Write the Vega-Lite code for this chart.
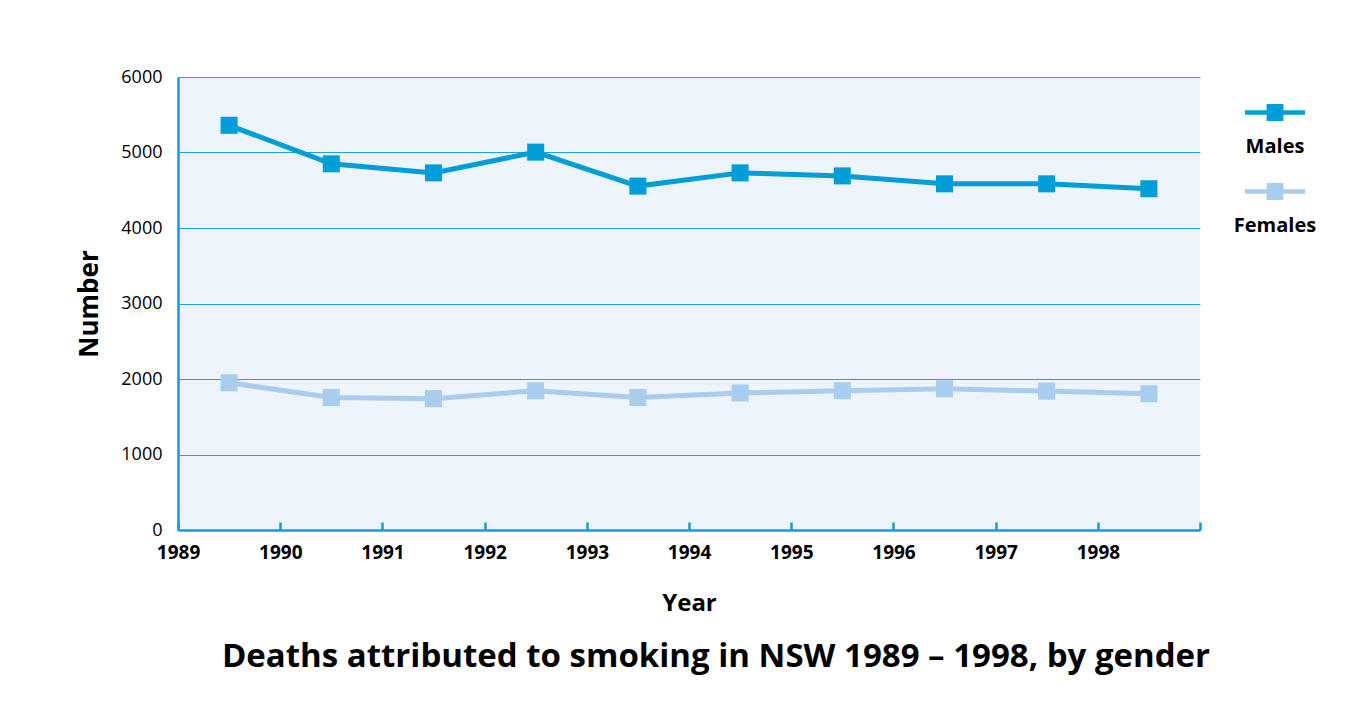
{
  "$schema": "https://vega.github.io/schema/vega-lite/v6.json",
  "width": 1022,
  "height": 453,
  "autosize": {"type": "none"},
  "padding": {"left": 178, "top": 77, "right": 169, "bottom": 183},
  "background": "white",
  "title": {
    "text": "Deaths attributed to smoking in NSW 1989 – 1998, by gender",
    "orient": "bottom",
    "anchor": "middle",
    "font": "Open Sans",
    "fontSize": 33,
    "fontWeight": "bold",
    "color": "black",
    "offset": 26,
    "dx": 27
  },
  "data": {
    "values": [
      {"year": "1989", "gender": "Males", "deaths": 5360},
      {"year": "1990", "gender": "Males", "deaths": 4850},
      {"year": "1991", "gender": "Males", "deaths": 4730},
      {"year": "1992", "gender": "Males", "deaths": 5005},
      {"year": "1993", "gender": "Males", "deaths": 4555},
      {"year": "1994", "gender": "Males", "deaths": 4730},
      {"year": "1995", "gender": "Males", "deaths": 4690},
      {"year": "1996", "gender": "Males", "deaths": 4585},
      {"year": "1997", "gender": "Males", "deaths": 4585},
      {"year": "1998", "gender": "Males", "deaths": 4520},
      {"year": "1989", "gender": "Females", "deaths": 1950},
      {"year": "1990", "gender": "Females", "deaths": 1755},
      {"year": "1991", "gender": "Females", "deaths": 1740},
      {"year": "1992", "gender": "Females", "deaths": 1845},
      {"year": "1993", "gender": "Females", "deaths": 1755},
      {"year": "1994", "gender": "Females", "deaths": 1815},
      {"year": "1995", "gender": "Females", "deaths": 1845},
      {"year": "1996", "gender": "Females", "deaths": 1870},
      {"year": "1997", "gender": "Females", "deaths": 1840},
      {"year": "1998", "gender": "Females", "deaths": 1805}
    ]
  },
  "mark": {
    "type": "line",
    "strokeWidth": 5,
    "point": {"shape": "square", "size": 290, "filled": true, "opacity": 1}
  },
  "encoding": {
    "x": {
      "field": "year",
      "type": "ordinal",
      "scale": {"type": "band", "paddingInner": 0, "paddingOuter": 0},
      "axis": {
        "title": "Year",
        "labelAngle": 0,
        "labelFont": "Open Sans",
        "labelFontSize": 19,
        "labelFontWeight": "bold",
        "labelColor": "black",
        "labelOffset": -51,
        "labelPadding": 21,
        "tickBand": "extent",
        "tickSize": -8,
        "tickWidth": 2.5,
        "tickColor": "#129fd6",
        "domainColor": "#129fd6",
        "domainWidth": 2.5,
        "grid": false,
        "titleFont": "Open Sans",
        "titleFontSize": 24,
        "titleFontWeight": "bold",
        "titleColor": "black",
        "titlePadding": 29
      }
    },
    "y": {
      "field": "deaths",
      "type": "quantitative",
      "scale": {"domain": [0, 6000], "nice": false},
      "axis": {
        "title": "Number",
        "format": "d",
        "values": [0, 1000, 2000, 3000, 4000, 5000, 6000],
        "ticks": false,
        "labelFont": "Open Sans",
        "labelFontSize": 18,
        "labelColor": "black",
        "labelPadding": 16,
        "domainColor": "#129fd6",
        "domainWidth": 2.5,
        "grid": true,
        "gridColor": "#1ba5dc",
        "gridWidth": 1,
        "gridOpacity": 1,
        "titleFont": "Open Sans",
        "titleFontSize": 26,
        "titleFontWeight": "bold",
        "titleColor": "black",
        "titlePadding": 18
      }
    },
    "color": {
      "field": "gender",
      "type": "nominal",
      "scale": {"domain": ["Males", "Females"], "range": ["#009ed8", "#a9cdee"]},
      "legend": {
        "title": null,
        "orient": "none",
        "legendX": 1067,
        "legendY": 40,
        "direction": "vertical",
        "symbolType": "M-1,-1.225H1V-1.075H-1Z M-0.28,-1.43H0.28V-0.87H-0.28Z",
        "symbolSize": 3600,
        "symbolStrokeWidth": 0,
        "symbolOpacity": 1,
        "labelFont": "Open Sans",
        "labelFontSize": 20,
        "labelFontWeight": "bold",
        "labelColor": "black",
        "labelAlign": "center",
        "labelOffset": -30,
        "labelLimit": 200,
        "rowPadding": 26,
        "encode": {
          "symbols": {
            "update": {
              "fill": {"scale": "color", "field": "value"},
              "strokeWidth": {"value": 0},
              "opacity": {"value": 1}
            }
          }
        }
      }
    }
  },
  "config": {
    "view": {"fill": "#eef4fc", "stroke": null}
  }
}
